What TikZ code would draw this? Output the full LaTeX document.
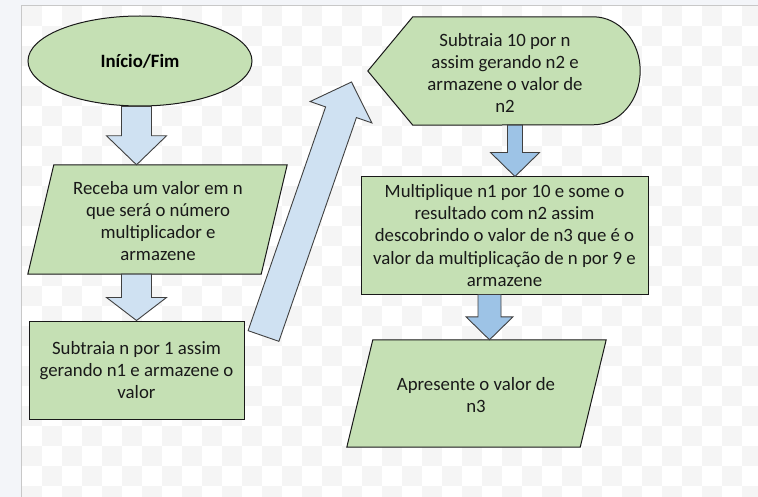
\documentclass[tikz,border=0pt]{standalone}
\usepackage{fontspec}
\setmainfont{Carlito}
\usetikzlibrary{calc,shapes.geometric}
\definecolor{outerbg}{HTML}{F3F5F9}
\definecolor{chk}{HTML}{F5F5F5}
\definecolor{framecol}{HTML}{C8C8C8}
\definecolor{boxgreen}{HTML}{C5E0B4}
\definecolor{arrlight}{HTML}{CFE1F2}
\definecolor{arrdark}{HTML}{9DC3E6}
\definecolor{arrline}{HTML}{404040}
\newcommand\blockarrow[6]{%
  \coordinate (bah) at ($(#3)!#6!(#2)$);
  \draw[#1] ($(#2)!#4!90:(#3)$) -- ($(bah)!#4!90:(#3)$) -- ($(bah)!#5!90:(#3)$) -- (#3)
    -- ($(bah)!#5!-90:(#3)$) -- ($(bah)!#4!-90:(#3)$) -- ($(#2)!#4!-90:(#3)$) -- cycle;}
\tikzset{
  txt/.style={font=\fontsize{18.8}{22.3}\selectfont, align=center, inner sep=0pt, text=black!90},
  boxshape/.style={draw=black!90, line width=1pt, fill=boxgreen},
  lightarrow/.style={draw=arrline, line width=0.9pt, fill=arrlight, line join=miter},
  darkarrow/.style={draw=arrline, line width=0.9pt, fill=arrdark, line join=miter},
}
\begin{document}
\begin{tikzpicture}[x=1pt,y=-1pt]
\useasboundingbox (0,0) rectangle (758,497);
\fill[outerbg] (0,0) rectangle (758,497);
\fill[white] (22,6) rectangle (758,497);
\begin{scope}
  \clip (22,6) rectangle (758,497);
  \foreach \i in {0,2,...,36} \foreach \j in {0,2,...,24}
    \fill[chk] (22+20*\i,6+20*\j) rectangle +(20,20);
  \foreach \i in {1,3,...,35} \foreach \j in {1,3,...,23}
    \fill[chk] (22+20*\i,6+20*\j) rectangle +(20,20);
\end{scope}
\draw[framecol, line width=1pt] (21.5,497) -- (21.5,5.5) -- (758,5.5);

% nodes
\node[ellipse, boxshape, minimum width=224pt, minimum height=90pt, inner sep=0pt,
      font=\bfseries\fontsize{18.8}{22.3}\selectfont] (start) at (140,61) {Início/Fim};

\node[minimum width=259pt, minimum height=109pt, inner sep=0pt] (p1box) at (157.5,219.5) {};
\draw[boxshape] ($(p1box.north west)+(26,0)$) -- (p1box.north east)
   -- ($(p1box.south east)+(-26,0)$) -- (p1box.south west) -- cycle;
\node[txt] (p1) at (158,221) {Receba um valor em n\\que será o número\\multiplicador e\\armazene};

\node[boxshape, minimum width=215pt, minimum height=98pt, inner sep=0pt] (r1box) at (136.5,370) {};
\node[txt] (r1) at (r1box.center) {Subtraia n por 1 assim\\gerando n1 e armazene o\\valor};

\node[minimum width=272pt, minimum height=108pt, inner sep=0pt] (s10box) at (504,71) {};
\draw[boxshape] (s10box.west) -- ($(s10box.north west)+(45,0)$) -- ($(s10box.north east)+(-47,0)$)
   arc[start angle=90, end angle=-90, x radius=47pt, y radius=54pt]
   -- ($(s10box.south west)+(45,0)$) -- cycle;
\node[txt] (s10) at (505,73) {Subtraia 10 por n\\assim gerando n2 e\\armazene o valor de\\n2};

\node[boxshape, minimum width=287pt, minimum height=117pt, inner sep=0pt] (mbox) at (504.5,235.5) {};
\node[txt] (m) at (mbox.center) {Multiplique n1 por 10 e some o\\resultado com n2 assim\\descobrindo o valor de n3 que é o\\valor da multiplicação de n por 9 e\\armazene};

\node[minimum width=259pt, minimum height=107pt, inner sep=0pt] (p2box) at (476.5,393.5) {};
\draw[boxshape] ($(p2box.north west)+(26,0)$) -- (p2box.north east)
   -- ($(p2box.south east)+(-26,0)$) -- (p2box.south west) -- cycle;
\node[txt] (p2) at (476,395) {Apresente o valor de\\n3};

% connectors (block arrows)
\coordinate (a1t) at (start.south -| r1box.center);
\coordinate (a1h) at (p1box.north -| r1box.center);
\blockarrow{lightarrow}{a1t}{a1h}{15pt}{30pt}{29pt}
\coordinate (a2t) at (p1box.south -| r1box.center);
\blockarrow{lightarrow}{a2t}{r1box.north}{15pt}{30pt}{23pt}
\coordinate (bigt) at (263.5,336);
\coordinate (bigh) at (351.5,82);
\blockarrow{lightarrow}{bigt}{bigh}{16.3pt}{32.7pt}{32pt}
\coordinate (a3t) at ($(s10box.south)+(11,0)$);
\coordinate (a3h) at ($(mbox.north)+(10.5,0)$);
\blockarrow{darkarrow}{a3t}{a3h}{7.5pt}{24.5pt}{24pt}
\coordinate (a4t) at ($(mbox.south)+(-15,0)$);
\coordinate (a4h) at ($(p2box.north)+(13,0)$);
\blockarrow{darkarrow}{a4t}{a4h}{11.5pt}{23.5pt}{23pt}
\end{tikzpicture}
\end{document}
